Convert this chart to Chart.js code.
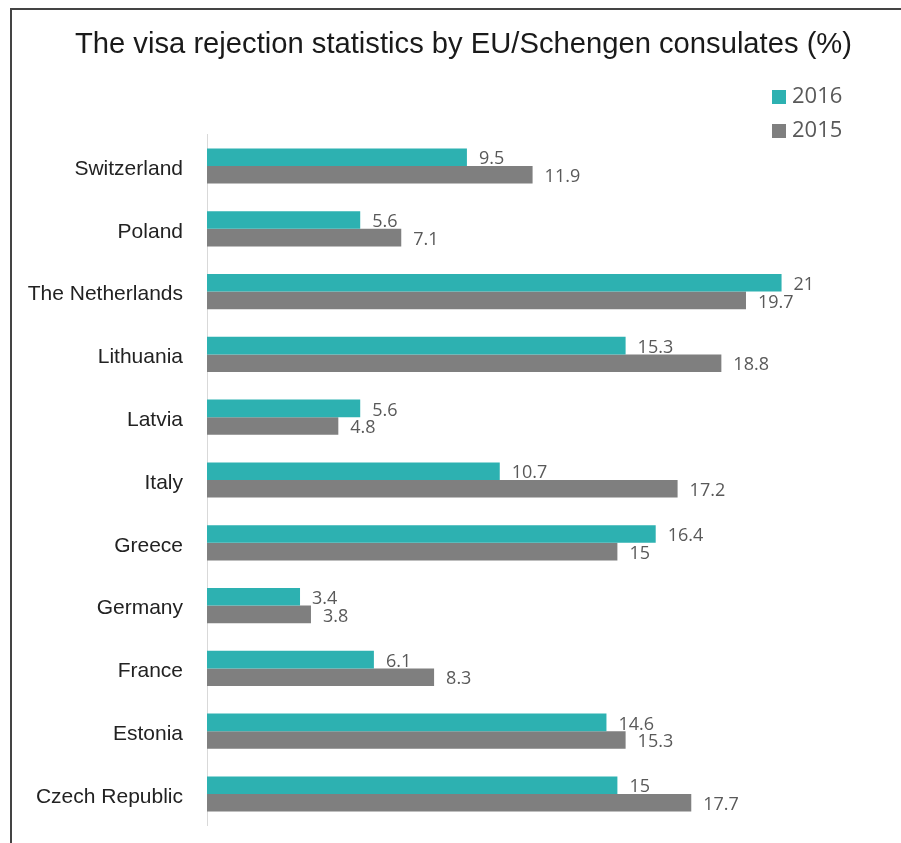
<!DOCTYPE html>
<html>
<head>
<meta charset="utf-8">
<script src="https://cdn.jsdelivr.net/npm/chart.js@4.4.1/dist/chart.umd.min.js"></script>
<style>
  html, body { margin: 0; padding: 0; background: #fff; overflow: hidden; }
  #wrap { position: relative; width: 901px; height: 843px; }
  #frame {
    position: absolute; left: 10px; top: 8px; width: 1000px; height: 1000px;
    border-left: 2px solid #444; border-top: 2px solid #444;
  }
  #visaChart { position: absolute; left: 0; top: 0; }
</style>
</head>
<body>
<div id="wrap">
  <div id="frame"></div>
  <canvas id="visaChart" width="901" height="843"></canvas>
</div>
<script>
const countries = [
  "Switzerland", "Poland", "The Netherlands", "Lithuania", "Latvia", "Italy",
  "Greece", "Germany", "France", "Estonia", "Czech Republic"
];
const rate2016 = [9.5, 5.6, 21, 15.3, 5.6, 10.7, 16.4, 3.4, 6.1, 14.6, 15];
const rate2015 = [11.9, 7.1, 19.7, 18.8, 4.8, 17.2, 15, 3.8, 8.3, 15.3, 17.7];
const yearLabels = ["2016", "2015"];
const chartTitle = "The visa rejection statistics by EU/Schengen consulates (%)";

const teal = "#2db1b1";
const gray = "#7f7f7f";

// title, value labels at the end of each bar, and the small legend top right
const decorations = {
  id: "decorations",
  afterDatasetsDraw(chart) {
    const ctx = chart.ctx;
    ctx.save();

    ctx.font = "29.2px 'Liberation Sans', Arial";
    ctx.fillStyle = "#1a1a1a";
    ctx.textAlign = "center";
    ctx.textBaseline = "alphabetic";
    ctx.fillText(chartTitle, 463.5, 53.3);

    ctx.textBaseline = "middle";
    ctx.font = "18px 'Open Sans'";
    ctx.fillStyle = "#595959";
    ctx.textAlign = "left";
    chart.data.datasets.forEach((ds, i) => {
      chart.getDatasetMeta(i).data.forEach((bar, j) => {
        ctx.fillText(String(ds.data[j]), bar.x + 12, bar.y + 2);
      });
    });

    ctx.font = "22px 'Open Sans'";
    chart.data.datasets.forEach((ds, i) => {
      const y = 90 + i * 34;
      ctx.fillStyle = ds.backgroundColor;
      ctx.fillRect(772, y, 14, 14);
      ctx.fillStyle = "#595959";
      ctx.fillText(ds.label, 792, y + 7);
    });
    ctx.restore();
  }
};

const ctx = document.getElementById("visaChart").getContext("2d");
const chart = new Chart(ctx, {
  type: "bar",
  data: {
    labels: countries,
    datasets: [
      { label: yearLabels[0], data: rate2016, backgroundColor: teal },
      { label: yearLabels[1], data: rate2015, backgroundColor: gray }
    ]
  },
  options: {
    indexAxis: "y",
    responsive: false,
    animation: false,
    layout: { padding: { top: 134.6, right: 10, bottom: 17.6, left: 0 } },
    datasets: {
      bar: { barPercentage: 1, categoryPercentage: 0.56 }
    },
    scales: {
      x: {
        display: false,
        min: 0,
        max: 25
      },
      y: {
        // invisible tick marks keep the labels away from the axis line
        grid: {
          display: true,
          drawOnChartArea: false,
          drawTicks: true,
          tickLength: 24,
          color: "rgba(0,0,0,0)"
        },
        border: { display: true, color: "#d9d9d9", width: 1 },
        ticks: {
          color: "#222",
          padding: 0,
          labelOffset: 3,
          font: { family: "'Liberation Sans', Arial", size: 21 }
        },
        afterFit(scale) {
          scale.width = 207;
        }
      }
    },
    plugins: {
      legend: { display: false },
      tooltip: { enabled: false },
      title: { display: false }
    }
  },
  plugins: [decorations]
});
</script>
</body>
</html>
